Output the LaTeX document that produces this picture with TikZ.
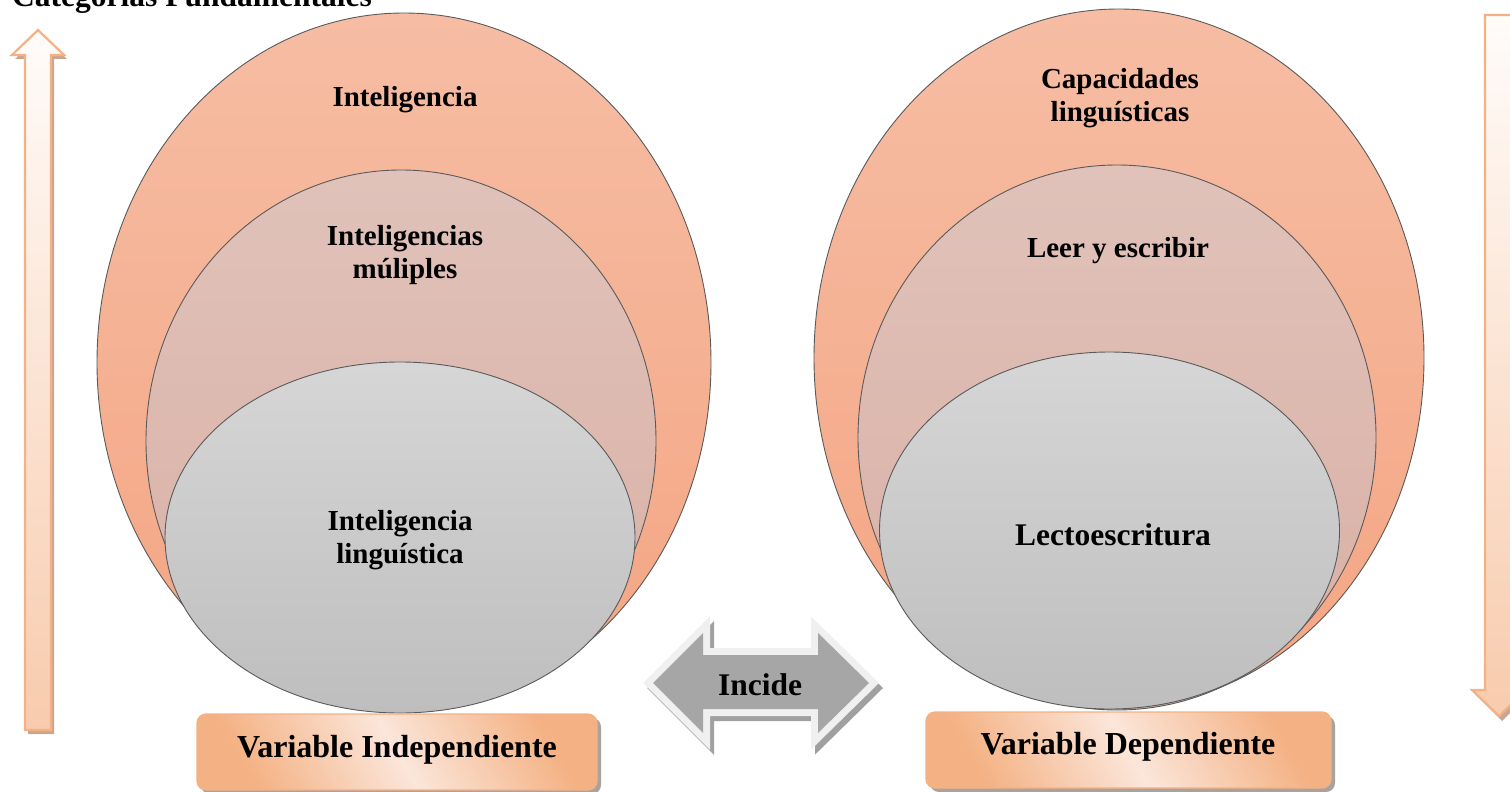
\documentclass[tikz,border=0pt]{standalone}
\usepackage{fontspec}
\setmainfont{Liberation Serif}
\begin{document}
\begin{tikzpicture}[x=1pt,y=-1pt,
  outerell/.style={top color=salA, bottom color=salB, draw=edge, line width=0.9pt},
  midell/.style={top color=pinkA, bottom color=pinkB, draw=edge, line width=0.9pt},
  innerell/.style={top color=grayA, bottom color=grayB, draw=edge, line width=0.9pt},
  lbl/.style={font=\bfseries\fontsize{29}{33}\selectfont, align=center, text=black, inner sep=0pt},
  varbox/.style={rounded corners=9pt, draw=boxedge, line width=1.2pt, top color=boxB, bottom color=boxB, middle color=boxA, shading angle=-60},
  boxshadow/.style={rounded corners=9pt, fill=shadowgray},
  sidearrow/.style={top color=arrA, bottom color=arrB, draw=boxedge, line width=2.2pt, line join=miter},
  sideshadow/.style={fill=arrshadow}
]
\definecolor{salA}{HTML}{F6BDA4}
\definecolor{salB}{HTML}{F4A582}
\definecolor{pinkA}{HTML}{E0C2BA}
\definecolor{pinkB}{HTML}{D9AFA3}
\definecolor{grayA}{HTML}{D6D6D6}
\definecolor{grayB}{HTML}{BEBEBE}
\definecolor{edge}{HTML}{5A5A5A}
\definecolor{boxA}{HTML}{FBE6DA}
\definecolor{boxB}{HTML}{F4B183}
\definecolor{boxedge}{HTML}{F4B183}
\definecolor{shadowgray}{HTML}{A8A39E}
\definecolor{arrA}{HTML}{FFFCFA}
\definecolor{arrB}{HTML}{F8CBAD}
\definecolor{arrshadow}{HTML}{C9A690}
\definecolor{incgray}{HTML}{A6A6A6}
\definecolor{incborder}{HTML}{F0F0F0}
\definecolor{incshadow}{HTML}{A0A0A0}

\useasboundingbox (0,0) rectangle (1510,792);

% title (cut off at the top)
\node[anchor=base west, inner sep=0pt, font=\bfseries\fontsize{31.5}{36}\selectfont] (title) at (12,7) {Categorías Fundamentales};

% left side arrow (up)
\fill[sideshadow] (41,34) -- (67,59) -- (54,59) -- (54,734) -- (28,734) -- (28,59) -- (15,59) -- cycle;
\path[sidearrow] (38,30) -- (64,55) -- (51,55) -- (51,730) -- (25,730) -- (25,55) -- (12,55) -- cycle;

% right side arrow (down)
\fill[sideshadow] (1488,19) -- (1515,19) -- (1515,694) -- (1529,694) -- (1502,721) -- (1475,694) -- (1488,694) -- cycle;
\path[sidearrow] (1485,15) -- (1512,15) -- (1512,690) -- (1526,690) -- (1499,716) -- (1472,690) -- (1485,690) -- cycle;

% left group
\path[outerell] (404,362.5) ellipse [x radius=307pt, y radius=349.5pt];
\path[midell] (401,441) ellipse [x radius=255pt, y radius=271pt];
\path[innerell] (400,537.5) ellipse [x radius=235pt, y radius=175.5pt];
\node[lbl] (intel) at (405,100) {Inteligencia};
\node[lbl] (multi) at (405,255) {Inteligencias\\múliples};
\node[lbl] (ling) at (400,540) {Inteligencia\\linguística};

% right group
\path[outerell] (1119,358) ellipse [x radius=305pt, y radius=349pt];
\path[midell] (1117,437.5) ellipse [x radius=259pt, y radius=272.5pt];
\path[innerell] (1109.5,530.5) ellipse [x radius=230pt, y radius=178.5pt];
\node[lbl] (capac) at (1120,98) {Capacidades\\linguísticas};
\node[lbl] (leer) at (1118,251) {Leer y escribir};
\node[lbl, font=\bfseries\fontsize{31.5}{36}\selectfont] (lecto) at (1113,535) {Lectoescritura};

% incide double arrow
\draw[incshadow, line width=14pt, line join=miter, shift={(4,5)}] (653,683) -- (703,633) -- (703,655) -- (818,655) -- (818,633) -- (869,683) -- (818,733) -- (818,709) -- (703,709) -- (703,733) -- cycle;
\draw[incborder, line width=14pt, line join=miter] (653,683) -- (703,633) -- (703,655) -- (818,655) -- (818,633) -- (869,683) -- (818,733) -- (818,709) -- (703,709) -- (703,733) -- cycle;
\fill[incgray] (653,683) -- (703,633) -- (703,655) -- (818,655) -- (818,633) -- (869,683) -- (818,733) -- (818,709) -- (703,709) -- (703,733) -- cycle;
\node[lbl, font=\bfseries\fontsize{31.5}{36}\selectfont] (incide) at (760,685) {Incide};

% variable boxes
\fill[boxshadow] (201,718) rectangle (601,794);
\path[varbox] (197,714) rectangle (597,790);
\node[lbl, font=\bfseries\fontsize{32}{36}\selectfont] (vi) at (397,750) {Variable Independiente};

\fill[boxshadow] (930,716) rectangle (1335,792);
\path[varbox] (926,712) rectangle (1331,788);
\node[lbl, font=\bfseries\fontsize{32}{36}\selectfont] (vd) at (1128,747) {Variable Dependiente};
\end{tikzpicture}
\end{document}
